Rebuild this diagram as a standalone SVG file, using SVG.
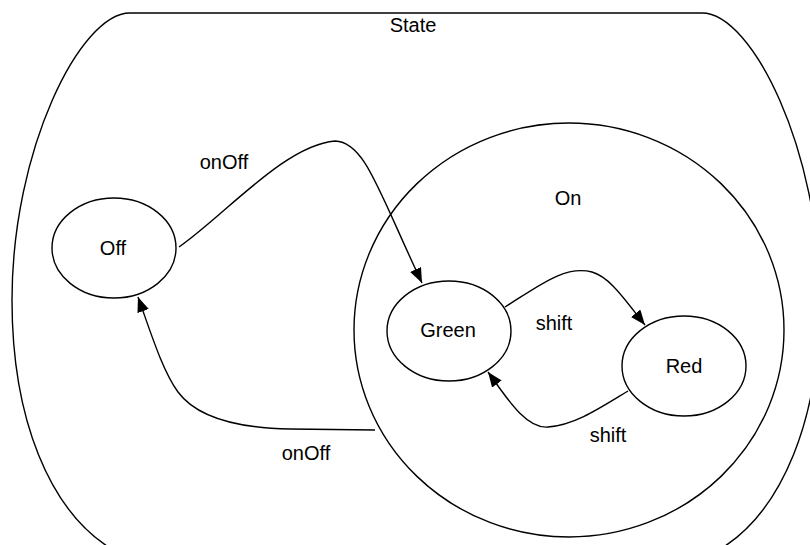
<svg xmlns="http://www.w3.org/2000/svg" width="810" height="545" viewBox="0 0 810 545">
<style>
.s{fill:none;stroke:#000;stroke-width:1.4}
.n{fill:#fff;stroke:#000;stroke-width:1.4}
.t{font-family:"Liberation Sans",Arial,sans-serif;font-size:20px;fill:#000;text-anchor:middle}
.e{fill:none;stroke:#000;stroke-width:1.4;marker-end:url(#ah)}
</style>
<defs>
<marker id="ah" viewBox="0 0 15 12" refX="15" refY="6" markerWidth="15" markerHeight="12" orient="auto" markerUnits="userSpaceOnUse">
<path d="M0,0 L15,6 L0,12 Z" fill="#000"/>
</marker>
</defs>
<rect width="810" height="545" fill="#fff"/>
<g id="State">
<path class="s" d="M130,13 H702 C752,13 820,150 820,300 C820,420 782,510 722,548 H110 C50,510 12,420 12,300 C12,150 80,13 130,13 Z"/>
<text class="t" x="413" y="32">State</text>
</g>
<g id="On">
<ellipse class="s" cx="569" cy="330" rx="215" ry="207"/>
<text class="t" x="568" y="205">On</text>
</g>
<g id="Off">
<ellipse class="n" cx="114" cy="248" rx="62" ry="50"/>
<text class="t" x="113" y="255">Off</text>
</g>
<g id="Green">
<ellipse class="n" cx="449" cy="331" rx="62" ry="50"/>
<text class="t" x="448" y="337">Green</text>
</g>
<g id="Red">
<ellipse class="n" cx="684" cy="366" rx="62" ry="50"/>
<text class="t" x="684" y="373">Red</text>
</g>
<g id="connectors">
<path class="e" d="M179,247 C225,215 285,145 335,141 C365,142 378,190 422,283"/>
<path class="e" d="M505,307 C540,285 565,265 592,272 C610,277 625,300 645,325"/>
<path class="e" d="M628,391 C600,408 575,425 548,427 C525,429 505,395 488,372"/>
<path class="e" d="M375,430 L290,429 C230,428 195,415 178,392 C162,370 150,330 138,297"/>
<text class="t" x="224" y="169">onOff</text>
<text class="t" x="554" y="330">shift</text>
<text class="t" x="608" y="442">shift</text>
<text class="t" x="306" y="460">onOff</text>
</g>
</svg>
